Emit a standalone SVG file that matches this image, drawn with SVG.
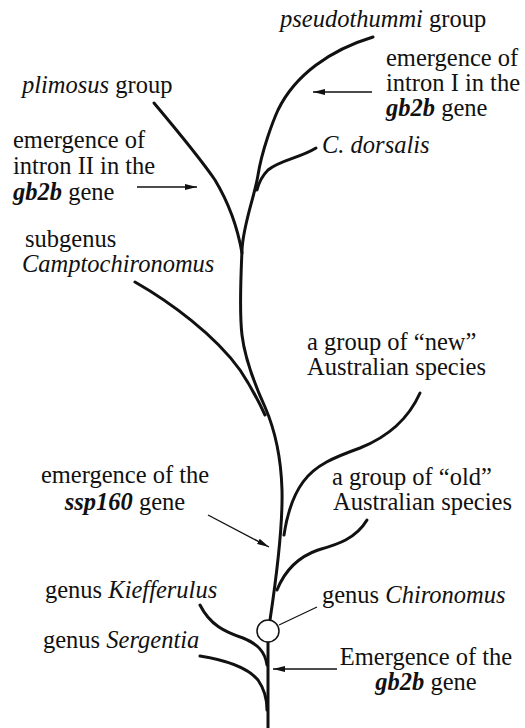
<svg xmlns="http://www.w3.org/2000/svg" width="525" height="728" viewBox="0 0 525 728" font-family="'Liberation Serif','Times New Roman',serif">
<style>
text{font-family:"Liberation Serif","Times New Roman",serif;font-size:24.5px;fill:#111}
.i{font-style:italic}
.b{font-weight:bold;font-style:italic}
.br{fill:none;stroke:#111;stroke-width:3;stroke-linecap:round}
.ar{fill:none;stroke:#111;stroke-width:1.4}
.ld{fill:none;stroke:#111;stroke-width:1.2}
</style>
<defs>
<marker id="ah" viewBox="0 0 12 6" refX="12" refY="3" markerWidth="12" markerHeight="6" markerUnits="userSpaceOnUse" orient="auto"><path d="M0,0 L12,3 L0,6 z" fill="#111"/></marker>
</defs>
<g id="connectors">
<path class="br" d="M373,37 C330,50 295,75 278,110 C273,121 262,150 258,175 C255,195 243,225 242,250 C241,275 239,310 242,335 C245,360 255,385 265,407 C275,430 281,455 282,490 C283,530 276,580 270,620"/>
<path class="br" d="M154,103 C175,128 200,158 215,180 C230,205 238,230 242,253"/>
<path class="br" d="M316,148 C300,158 280,160 268,170 C262,176 259,182 257,190"/>
<path class="br" d="M135,282 C170,302 215,335 240,370 C250,385 258,400 265,415"/>
<path class="br" d="M420,393 C408,420 385,438 360,448 C335,457 315,465 303,482 C292,497 287,515 284,535"/>
<path class="br" d="M367,520 C355,540 335,545 318,550 C298,557 285,570 277,590"/>
<path class="br" d="M200,605 C210,625 225,632 243,638 C258,644 265,652 267,665"/>
<path class="br" d="M200,656 C225,660 248,668 258,680 C265,690 267,700 267,710"/>
<path class="br" d="M268,642 L268,728"/>
<path class="ar" d="M372,92 L313,92" marker-end="url(#ah)"/>
<path class="ar" d="M137,187 L197,187" marker-end="url(#ah)"/>
<path class="ar" d="M208,515 L269,547" marker-end="url(#ah)"/>
<path class="ar" d="M337,669 L273,669" marker-end="url(#ah)"/>
<path class="ld" d="M279,625 L317,607"/>
</g>
<g id="chironomus-node"><circle cx="268" cy="631" r="11" fill="#fff" stroke="#111" stroke-width="1.5"/></g>
<g id="pseudothummi"><text x="280" y="27"><tspan class="i">pseudothummi</tspan> group</text></g>
<g id="intron1"><text x="386" y="66">emergence of</text><text x="386" y="91">intron I in the</text><text x="386" y="116"><tspan class="b">gb2b</tspan> gene</text></g>
<g id="plimosus"><text x="22" y="93"><tspan class="i">plimosus</tspan> group</text></g>
<g id="intron2"><text x="13" y="148">emergence of</text><text x="13" y="174">intron II in the</text><text x="13" y="200"><tspan class="b">gb2b</tspan> gene</text></g>
<g id="dorsalis"><text x="322" y="153" class="i">C. dorsalis</text></g>
<g id="camptochironomus"><text x="25" y="247">subgenus</text><text x="22" y="272" class="i">Camptochironomus</text></g>
<g id="new-australian"><text x="307" y="350">a group of “new”</text><text x="307" y="375">Australian species</text></g>
<g id="ssp160"><text x="125" y="483" text-anchor="middle">emergence of the</text><text x="125" y="510" text-anchor="middle"><tspan class="b">ssp160</tspan> gene</text></g>
<g id="old-australian"><text x="332" y="485">a group of “old”</text><text x="333" y="510">Australian species</text></g>
<g id="kiefferulus"><text x="45" y="598">genus <tspan class="i">Kiefferulus</tspan></text></g>
<g id="chironomus"><text x="322" y="603">genus <tspan class="i">Chironomus</tspan></text></g>
<g id="sergentia"><text x="43" y="648">genus <tspan class="i">Sergentia</tspan></text></g>
<g id="gb2b"><text x="426" y="665" text-anchor="middle">Emergence of the</text><text x="426" y="690" text-anchor="middle"><tspan class="b">gb2b</tspan> gene</text></g>
</svg>
